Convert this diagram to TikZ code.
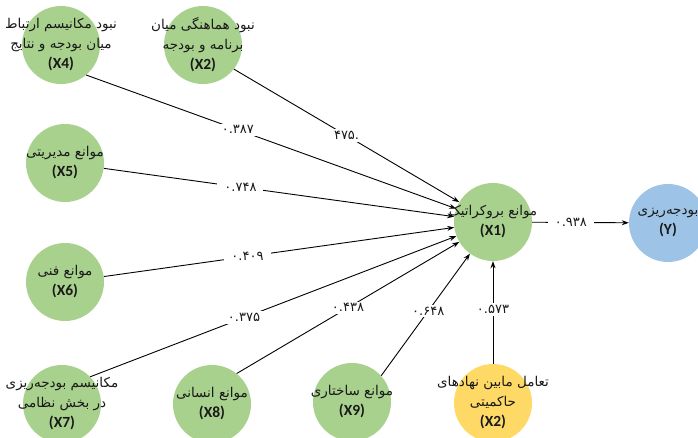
\documentclass[tikz,border=0pt]{standalone}
\usepackage{fontspec}
\setmainfont{DejaVu Sans}
\newfontfamily\arabicfont[Script=Arabic]{DejaVu Sans}
\newfontfamily\latinf{Carlito}
\TeXXeTstate=1
\usetikzlibrary{arrows.meta}
\definecolor{cgreen}{HTML}{A9D18E}
\definecolor{cblue}{HTML}{9DC3E6}
\definecolor{cyellow}{HTML}{FFD966}
\newcommand{\lat}[1]{{\latinf\bfseries\fontsize{15.5}{20}\selectfont #1}}
\begin{document}
\begin{tikzpicture}[x=1pt,y=-1pt,
  circ/.style={circle, minimum size=78pt, inner sep=0pt, draw=none},
  gnode/.style={circ, fill=cgreen},
  txt/.style={align=center, text=black!90, inner sep=0pt, font=\fontsize{13.5}{20}\selectfont},
  arr/.style={-{Stealth[length=7pt,width=5pt]}, line width=0.9pt},
  lbl/.style={fill=white, inner xsep=7pt, inner ysep=2pt, text=black!90, font=\arabicfont\fontsize{13}{13}\selectfont}]
\useasboundingbox (0,0) rectangle (698,438);

\node[gnode, label={[txt]center:{{\arabicfont\beginR نبود مکانیسم ارتباط\endR}\\{\arabicfont\beginR میان بودجه و نتایج\endR}\\\lat{(X4)}}}] (X4) at (61,45) {};
\node[gnode, label={[txt]center:{{\arabicfont\beginR نبود هماهنگی میان\endR}\\{\arabicfont\beginR برنامه و بودجه\endR}\\\lat{(X2)}}}] (X2t) at (203,45) {};
\node[gnode, label={[txt]center:{{\arabicfont\beginR موانع مدیریتی\endR}\\\lat{(X5)}}}] (X5) at (65,163) {};
\node[gnode, label={[txt]center:{{\arabicfont\beginR موانع فنی\endR}\\\lat{(X6)}}}] (X6) at (65,282) {};
\node[gnode, label={[txt]center:{{\arabicfont\beginR مکانیسم بودجه‌ریزی\endR}\\{\arabicfont\beginR در بخش نظامی\endR}\\\lat{(X7)}}}] (X7) at (62,404) {};
\node[gnode, label={[txt]center:{{\arabicfont\beginR موانع انسانی\endR}\\\lat{(X8)}}}] (X8) at (212,404) {};
\node[gnode, label={[txt]center:{{\arabicfont\beginR موانع ساختاری\endR}\\\lat{(X9)}}}] (X9) at (352,402) {};
\node[circ, fill=cyellow, label={[txt]center:{{\arabicfont\beginR تعامل مابین نهادهای\endR}\\{\arabicfont\beginR حاکمیتی\endR}\\\lat{(X2)}}}] (X2b) at (493,403) {};
\node[gnode, label={[txt]center:{{\arabicfont\beginR موانع بروکراتیک\endR}\\\lat{(X1)}}}] (X1) at (493,222) {};
\node[circ, fill=cblue, label={[txt]center:{{\arabicfont\beginR بودجه‌ریزی\endR}\\\lat{(Y)}}}] (Y) at (668,223) {};

\draw[arr] (X4.-50) -- node[lbl,pos=0.41]{۰.۳۸۷} (X1);
\draw[arr] (X2t.-38) -- node[lbl,pos=0.50]{۴۷۵\rmfamily.} (X1);
\draw[arr] (X5) -- node[lbl,pos=0.39]{۰.۷۴۸} (X1);
\draw[arr] (X6) -- node[lbl,pos=0.41]{۰.۴۰۹} (X1);
\draw[arr] (X7.44) -- node[lbl,pos=0.42]{۰.۳۷۵} (X1);
\draw[arr] (X8.51) -- node[lbl,pos=0.50]{۰.۴۳۸} (X1);
\draw[arr] (X9.42) -- node[lbl,pos=0.53]{۰.۶۴۸} (X1);
\draw[arr] (X2b) -- node[lbl,pos=0.53]{۰.۵۷۳} (X1);
\draw[arr] (X1) -- node[lbl,pos=0.40]{۰.۹۳۸} (Y);
\end{tikzpicture}
\end{document}
